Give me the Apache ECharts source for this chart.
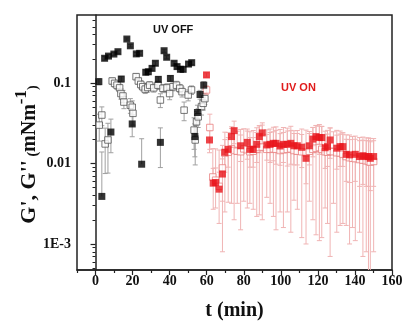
<!DOCTYPE html>
<html><head><meta charset="utf-8">
<script src="https://cdn.jsdelivr.net/npm/echarts@6/dist/echarts.min.js"></script>
<style>html,body{margin:0;padding:0;background:#fff}#c{width:404px;height:322px}</style>
</head><body><div id="c"></div>
<script>
// ---- data ----
var tG1off = [1.8,3.4,4.9,7.0,8.3,9.9,12.1,13.9,16.9,18.8,19.8,22.0,23.8,24.9,27.1,28.5,30.5,32.3,33.9,35.0,37.0,38.4,40.4,42.4,44.0,45.8,47.3,50.2,51.9,53.6,55.0,56.4,58.4];
var G1off  = [0.104,0.0039,0.203,0.216,0.0246,0.229,0.245,0.112,0.352,0.29,0.031,0.23,0.234,0.0098,0.136,0.138,0.152,0.176,0.111,0.0183,0.252,0.209,0.114,0.176,0.16,0.148,0.148,0.172,0.179,0.0216,0.043,0.072,0.094];
var eG1off = [0.009,0.010,0.011,0.010,0.011,0.010,0.012,0.009,0.011,0.010,0.0095,0.010,0.011,0.0105,0.009,0.010,0.010,0.011,0.009,0.0094,0.011,0.010,0.009,0.010,0.010,0.009,0.010,0.011,0.010,0.0095,0.010,0.009,0.010];

var tG2off = [2.0,3.4,5.2,6.7,9.0,10.3,11.6,13.0,13.7,14.8,15.3,18.8,19.8,20.2,21.9,23.1,24.4,25.5,26.8,28.2,29.2,31.4,33.7,35.0,36.4,38.6,40.0,41.8,43.7,45.5,46.7,47.8,50.0,51.8,53.2,53.8,54.5,55.4,57.2,58.1,59.0];
var G2off  = [0.030,0.040,0.0175,0.0196,0.106,0.099,0.094,0.087,0.074,0.069,0.058,0.053,0.050,0.042,0.120,0.106,0.096,0.090,0.084,0.088,0.094,0.087,0.094,0.0615,0.086,0.087,0.074,0.090,0.094,0.086,0.078,0.046,0.071,0.082,0.026,0.0196,0.033,0.038,0.051,0.056,0.064];
var eG2off = [0.011,0.0105,0.010,0.012,0.009,0.010,0.011,0.010,0.011,0.012,0.010,0.011,0.010,0.012,0.010,0.009,0.011,0.010,0.010,0.011,0.010,0.010,0.011,0.012,0.010,0.011,0.012,0.010,0.011,0.010,0.011,0.012,0.011,0.010,0.011,0.010,0.011,0.010,0.011,0.010,0.010];

var tG1on = [59.9,61.5,63.5,64.8,66.7,68.5,69.8,71.6,73.4,74.8,78.3,81.9,83.3,85.1,87.0,88.4,90.0,92.4,94.2,96.0,97.4,99.6,101.4,103.5,105.4,107.1,108.9,111.3,113.6,115.4,117.3,119.0,120.8,122.1,123.9,125.2,126.6,130.2,132.0,133.5,135.3,137.1,140.2,142.5,144.3,146.1,147.3,148.3,150.1];
var G1on  = [0.126,0.0196,0.0057,0.0058,0.0048,0.0074,0.0138,0.015,0.0216,0.0256,0.0166,0.0183,0.015,0.015,0.0173,0.0216,0.024,0.017,0.0173,0.0178,0.0178,0.0165,0.0173,0.0173,0.0178,0.0166,0.0166,0.0159,0.0116,0.0166,0.0201,0.0216,0.021,0.021,0.0157,0.0162,0.0196,0.0155,0.0162,0.0162,0.013,0.0128,0.013,0.0122,0.0125,0.0122,0.0122,0.0116,0.0122];
var eG1on = [0.008,0.006,0.003,0.003,0.003,0.004,0.006,0.006,0.007,0.008,0.006,0.007,0.006,0.006,0.007,0.008,0.008,0.006,0.007,0.007,0.008,0.007,0.007,0.008,0.008,0.007,0.007,0.007,0.006,0.007,0.008,0.008,0.008,0.008,0.007,0.007,0.008,0.007,0.007,0.007,0.007,0.007,0.007,0.007,0.007,0.007,0.007,0.007,0.007];

var tG2on = [59.9,61.7,63.3,64.8,66.7,68.5,69.8,71.6,73.4,74.8,76.5,78.3,80.0,81.9,83.3,85.1,87.0,88.4,90.0,92.4,94.2,96.0,97.4,99.6,101.4,103.5,105.4,107.1,108.9,111.3,113.6,115.4,117.3,119.0,120.8,122.1,123.9,125.2,126.6,128.4,130.2,132.0,133.5,135.3,137.1,138.7,140.2,142.5,144.3,146.1,147.3,148.3,150.1];
var G2on  = [0.082,0.028,0.0068,0.0062,0.0052,0.0088,0.0135,0.0138,0.0152,0.0145,0.0142,0.0140,0.0152,0.0148,0.0140,0.0142,0.0150,0.0158,0.0160,0.0150,0.0150,0.0152,0.0150,0.0145,0.0148,0.0150,0.0152,0.0145,0.0142,0.0140,0.0135,0.0142,0.0150,0.0155,0.0158,0.0150,0.0140,0.0138,0.0142,0.0140,0.0136,0.0135,0.0130,0.0122,0.0118,0.0116,0.0115,0.0112,0.0110,0.0108,0.0106,0.0104,0.0106];
var eG2on = [0.010,0.013,0.0085,0.009,0.0095,0.0080,0.0110,0.0105,0.0120,0.0125,0.0110,0.0125,0.0118,0.0120,0.0108,0.0115,0.0128,0.0135,0.0140,0.0112,0.0118,0.0130,0.0135,0.0120,0.0132,0.0125,0.0138,0.0110,0.0115,0.0128,0.0125,0.0108,0.0130,0.0142,0.0147,0.0138,0.0112,0.0120,0.0135,0.0108,0.0122,0.0118,0.0112,0.0105,0.0108,0.0100,0.0104,0.0098,0.0103,0.0100,0.0102,0.0101,0.0098];

var xTickValues = [0,20,40,60,80,100,120,140,160];
var xMinorValues = [-10,10,30,50,70,90,110,130,150];
var yTickValues = [0.001,0.01,0.1];
var yTickLabels = ['1E-3','0.01','0.1'];
var yMinorValues = [];
[0.0001,0.001,0.01,0.1].forEach(function(d){for(var k=2;k<=9;k++){var v=k*d; if(v>0.00047&&v<0.7) yMinorValues.push(v);}});

// ---- helpers ----
function pts(t, v){ return t.map(function(x,i){return [x, v[i]];}); }
function errs(t, v, e){ return t.map(function(x,i){return [x, v[i], v[i]-e[i], v[i]+e[i]];}); }

function renderErr(params, api){
  var t=api.value(0), v=api.value(1), lo=api.value(2), hi=api.value(3);
  var cs=params.coordSys, yTop=cs.y, yBot=cs.y+cs.height;
  var pv=api.coord([t,v]); var x=pv[0], yv=pv[1];
  var yh=api.coord([t,hi])[1];
  var topCap=true, lowCap=true, yl;
  if(lo>0){ yl=api.coord([t,lo])[1]; if(!(yl<=yBot)){yl=yBot; lowCap=false;} }
  else { yl=yv; lowCap=false; }
  if(yh<yTop){yh=yTop; topCap=false;}
  var st={stroke:api.visual('color'), lineWidth:1};
  var w=2.5, ch=[{type:'line',shape:{x1:x,y1:yh,x2:x,y2:yl},style:st}];
  if(topCap) ch.push({type:'line',shape:{x1:x-w,y1:yh,x2:x+w,y2:yh},style:st});
  if(lowCap) ch.push({type:'line',shape:{x1:x-w,y1:yl,x2:x+w,y2:yl},style:st});
  return {type:'group',children:ch};
}

var serif='"Liberation Serif","Times New Roman",serif';
var chart=echarts.init(document.getElementById('c'),null,{renderer:'canvas'});
chart.setOption({
  animation:false,
  backgroundColor:'#fff',
  grid:{left:77,right:12,top:15,bottom:52,outerBoundsMode:'none',containLabel:false,show:true,borderColor:'#222',borderWidth:1.5,backgroundColor:'transparent'},
  xAxis:[{
    type:'value',min:-10,max:160,position:'bottom',
    name:'t (min)',nameLocation:'middle',nameGap:31,
    nameTextStyle:{fontFamily:serif,fontWeight:'bold',fontSize:20,color:'#111'},
    axisLine:{lineStyle:{color:'#222',width:1.5}},
    axisTick:{customValues:xTickValues,length:5,lineStyle:{color:'#222',width:1.2}},
    axisLabel:{customValues:xTickValues,fontFamily:serif,fontWeight:'bold',fontSize:14,color:'#111',margin:4},
    splitLine:{show:false}
  },{
    type:'value',min:-10,max:160,position:'bottom',
    axisLine:{show:false},
    axisTick:{customValues:xMinorValues,length:3,lineStyle:{color:'#222',width:1.2}},
    axisLabel:{show:false},splitLine:{show:false}
  }],
  yAxis:[{
    type:'log',logBase:10,min:0.000475,max:0.7,position:'left',
    name:"{a|G', G''}{b| (}{c|mNm}{d|-1}{b|)}",nameLocation:'middle',nameGap:37,nameRotate:90,nameMoveOverlap:false,
    nameTextStyle:{fontFamily:serif,fontWeight:'bold',color:'#111',padding:[0,24,0,0],
      rich:{
        a:{fontFamily:serif,fontWeight:'bold',fontSize:22,color:'#111',lineHeight:27,verticalAlign:'bottom'},
        b:{fontFamily:serif,fontWeight:'bold',fontSize:14,color:'#111',lineHeight:27,verticalAlign:'bottom'},
        c:{fontFamily:serif,fontWeight:'bold',fontSize:20,color:'#111',lineHeight:27,verticalAlign:'bottom'},
        d:{fontFamily:serif,fontWeight:'bold',fontSize:17,color:'#111',lineHeight:27,verticalAlign:'top'}
      }},
    axisLine:{show:true,lineStyle:{color:'#222',width:1.5}},
    axisTick:{customValues:yTickValues,length:5,lineStyle:{color:'#222',width:1.2}},
    axisLabel:{customValues:yTickValues,fontFamily:serif,fontWeight:'bold',fontSize:14,color:'#111',margin:6,
      formatter:function(v){var l=Math.log10(v);for(var i=0;i<yTickValues.length;i++){if(Math.abs(Math.log10(yTickValues[i])-l)<1e-6)return yTickLabels[i];}return '';}},
    splitLine:{show:false}
  },{
    type:'log',logBase:10,min:0.000475,max:0.7,position:'left',
    axisLine:{show:false},
    axisTick:{customValues:yMinorValues,length:3,lineStyle:{color:'#222',width:1}},
    axisLabel:{show:false},splitLine:{show:false}
  }],
  graphic:[
    {type:'text',left:153,top:24,style:{text:'UV OFF',fill:'#111',font:'bold 11px "Liberation Sans",Arial,sans-serif'}},
    {type:'text',left:281,top:82,style:{text:'UV ON',fill:'#e01b1b',font:'bold 11px "Liberation Sans",Arial,sans-serif'}}
  ],
  series:[
    {type:'custom',renderItem:renderErr,data:errs(tG2off,G2off,eG2off),encode:{x:0,y:1},itemStyle:{color:'#a0a0a0'},z:1,clip:false},
    {type:'custom',renderItem:renderErr,data:errs(tG1off,G1off,eG1off),encode:{x:0,y:1},itemStyle:{color:'#a0a0a0'},z:1,clip:false},
    {type:'custom',renderItem:renderErr,data:errs(tG2on,G2on,eG2on),encode:{x:0,y:1},itemStyle:{color:'#f0b4b4'},z:1,clip:false},
    {type:'custom',renderItem:renderErr,data:errs(tG1on,G1on,eG1on),encode:{x:0,y:1},itemStyle:{color:'#f0b4b4'},z:1,clip:false},
    {type:'scatter',data:pts(tG2off,G2off),symbol:'rect',symbolSize:6.5,itemStyle:{color:'#fff',borderColor:'#555',borderWidth:1},z:3},
    {type:'scatter',data:pts(tG2on,G2on),symbol:'rect',symbolSize:6.5,itemStyle:{color:'#fff',borderColor:'#e88080',borderWidth:1},z:3},
    {type:'scatter',data:pts(tG1off,G1off),symbol:'rect',symbolSize:7,itemStyle:{color:'#000'},z:4},
    {type:'scatter',data:pts(tG1on,G1on),symbol:'rect',symbolSize:7,itemStyle:{color:'#e8141a'},z:4}
  ]
});
</script></body></html>
